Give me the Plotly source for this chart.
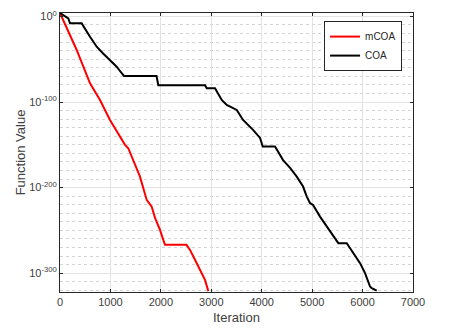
import plotly.graph_objects as go

# --- convergence curves (iteration, log10 of function value) ---
coa_iter = [0, 165, 198, 430, 595, 728, 845, 991, 1124, 1224, 1269, 1914, 1950, 2876,
            2910, 3074, 3108, 3207, 3306, 3431, 3505, 3630, 3828, 3967, 4021, 4264,
            4423, 4562, 4695, 4820, 4893, 4959, 5018, 5156, 5290, 5414, 5519, 5686,
            5811, 5950, 6049, 6148, 6182, 6281]
coa_exp = [4.0, -2.2, -8.1, -8.1, -23.7, -35.4, -42.7, -50.9, -58.7, -66.4, -69.6, -69.6,
           -80.4, -80.4, -84.0, -84.0, -87.9, -97.6, -103.5, -107.0, -109.3, -121.0,
           -132.6, -142.0, -152.1, -152.1, -167.9, -177.0, -187.2, -198.8, -210.5,
           -218.2, -220.2, -233.9, -245.5, -257.2, -264.9, -264.9, -276.6, -288.3,
           -300.0, -315.6, -317.5, -320.3]

mcoa_iter = [0, 331, 595, 793, 991, 1156, 1289, 1354, 1453, 1586, 1719, 1818, 1884,
             1983, 2048, 2082, 2508, 2578, 2677, 2776, 2875, 2941]
mcoa_exp = [4.0, -39.2, -78.1, -97.6, -121.0, -136.5, -150.1, -154.0, -167.7, -187.2,
            -214.4, -222.2, -235.4, -249.4, -261.1, -266.9, -266.9, -272.8, -284.4,
            -296.1, -307.8, -321.0]

y_tick_vals = [1e0, 1e-100, 1e-200, 1e-300]
y_tick_text = ['10<sup>0</sup>', '10<sup>-100</sup>', '10<sup>-200</sup>', '10<sup>-300</sup>']

coa_val = [10.0 ** e for e in coa_exp]
mcoa_val = [10.0 ** e for e in mcoa_exp]

AX = '#262626'
TXT = '#404040'
GRID = '#e3e3e3'

fig = go.Figure()
fig.add_trace(go.Scatter(x=mcoa_iter, y=mcoa_val, mode='lines', name='mCOA',
                         line=dict(color='#ff0000', width=2)))
fig.add_trace(go.Scatter(x=coa_iter, y=coa_val, mode='lines', name='COA',
                         line=dict(color='#000000', width=2)))

# page body adds an 8px margin, so the figure is sized to fit inside it
fig.update_layout(
    width=445, height=326,
    margin=dict(l=52, r=40, t=5, b=42),
    paper_bgcolor='white', plot_bgcolor='white',
    font=dict(family='Liberation Sans, Arial, sans-serif', size=11, color=TXT),
    showlegend=True,
    legend=dict(x=0.969, y=0.971, xanchor='right', yanchor='top',
                bgcolor='white', bordercolor=AX, borderwidth=1,
                font=dict(size=10, color=AX), itemwidth=30, tracegroupgap=0),
    xaxis=dict(range=[0, 7000], dtick=1000, tick0=0, automargin=False,
               showline=True, linecolor=AX, linewidth=1, mirror='ticks',
               ticks='inside', ticklen=3, tickcolor=AX,
               showgrid=True, gridcolor=GRID, zeroline=False,
               title=dict(text='Iteration', standoff=5)),
    yaxis=dict(type='log', range=[-322, 4], automargin=False,
               tickmode='array', tickvals=y_tick_vals, ticktext=y_tick_text,
               showline=True, linecolor=AX, linewidth=1, mirror='ticks',
               ticks='inside', ticklen=3, tickcolor=AX,
               showgrid=True, gridcolor=GRID, zeroline=False,
               minor=dict(dtick=10, tick0=0, showgrid=True, gridcolor='#d4d4d4',
                          griddash='dot', ticks=''),
               title=dict(text='Function Value', standoff=0)),
)

fig.write_html("out.html")
